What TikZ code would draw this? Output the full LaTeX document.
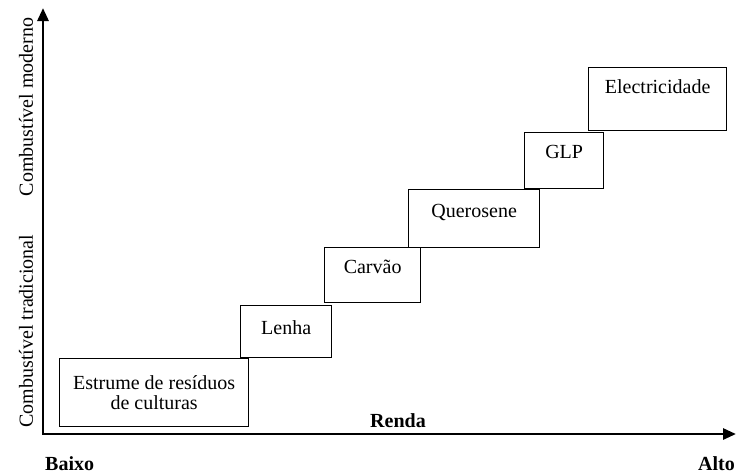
\documentclass[tikz,border=0pt]{standalone}
\usepackage{fontspec}
\setmainfont{Liberation Serif}
\usetikzlibrary{arrows.meta,positioning}

\begin{document}
\begin{tikzpicture}[
  x=1pt, y=-1pt,
  fuel/.style={draw, line width=1.3pt, anchor=north west, inner sep=0pt, align=center,
               font=\fontsize{20}{20}\selectfont},
  axis/.style={line width=2.8pt, {Triangle[length=13pt, width=11pt]}-{Triangle[length=13pt, width=11pt]}},
  sidelabel/.style={rotate=90, font=\fontsize{20}{20}\selectfont},
  endlabel/.style={anchor=base west, inner sep=0pt, font=\bfseries\fontsize{20}{20}\selectfont}
]
\useasboundingbox (0,0) rectangle (736,475);
% axes
\coordinate (ytip) at (43,8);
\coordinate (origin) at (43,434);
\coordinate (xtip) at (736,434);
\draw[axis] (ytip) -- (origin) -- (xtip);
\node[sidelabel] (moderno) at (26,107) {Combustível moderno};
\node[sidelabel] (tradicional) at (26,331) {Combustível tradicional};
\node[endlabel] (baixo) at (45,470) {Baixo};
\node[endlabel] (alto) at (698,470) {Alto};
\node[endlabel] (renda) at (370,427) {Renda};
% fuel ladder
\node[fuel, minimum width=189pt, minimum height=68pt] (estrume) at (59,358) {Estrume de resíduos\\de culturas};
\node[fuel, minimum width=91pt, text height=29pt, text depth=23pt] (lenha) at (240,305) {Lenha};
\node[fuel, minimum width=96pt, text height=26pt, text depth=29pt] (carvao) at (324,247) {Carvão};
\node[fuel, minimum width=131pt, text height=28pt, text depth=30pt] (querosene) at (408,189) {Querosene};
\node[fuel, minimum width=79pt, text height=26pt, text depth=30pt] (glp) at (524,132) {GLP};
\node[fuel, minimum width=138pt, text height=26pt, text depth=37pt] (electricidade) at (588,67) {Electricidade};
\end{tikzpicture}
\end{document}
